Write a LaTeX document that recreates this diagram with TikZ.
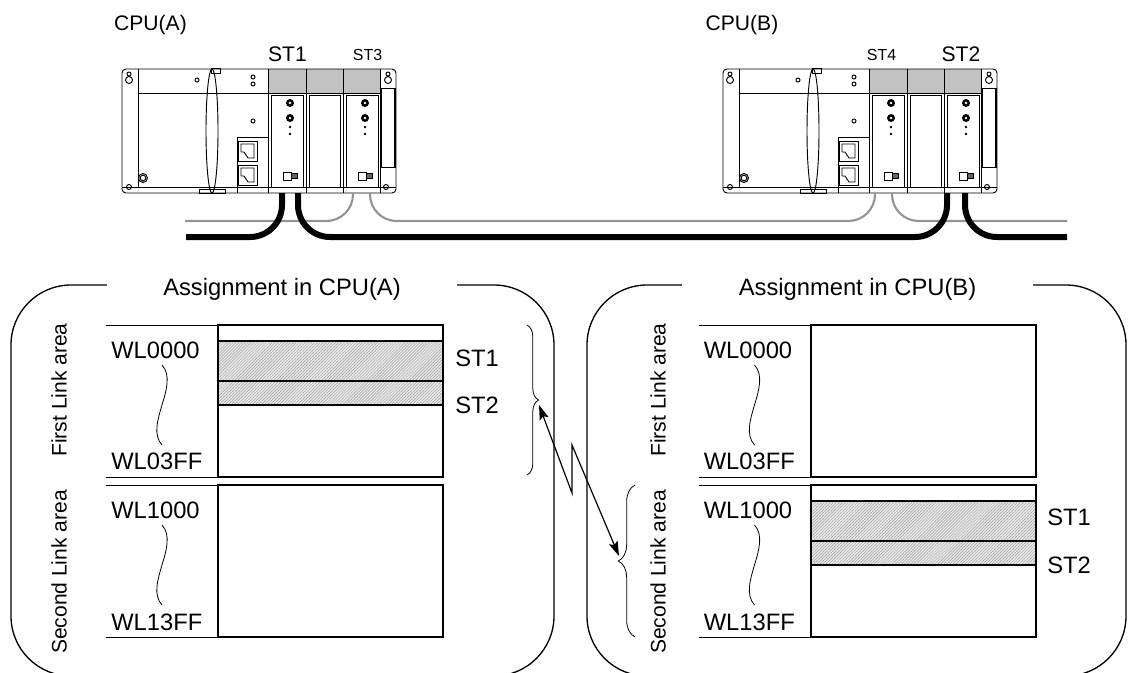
\documentclass[tikz,border=0pt]{standalone}
\usepackage{fontspec}
\setmainfont{Liberation Sans}
\usetikzlibrary{arrows.meta,decorations.pathreplacing,patterns.meta}
\definecolor{cablegray}{gray}{0.58}
\definecolor{slotgray}{gray}{0.76}
\tikzset{
  biglbl/.style={font=\fontsize{17.8}{21}\selectfont,inner sep=0pt},
  midlbl/.style={font=\fontsize{15.8}{19}\selectfont,inner sep=0pt},
  smalllbl/.style={font=\fontsize{12}{14}\selectfont,inner sep=0pt},
  title/.style={biglbl,fill=white,inner xsep=42.5pt,inner ysep=3pt},
  areabox/.style={line width=1pt,rounded corners=45pt},
  memblock/.style={line width=1.5pt},
  addrline/.style={line width=0.7pt},
  hatch/.style={preaction={fill=gray!18},pattern={Lines[angle=45,distance=1.6pt,line width=0.35pt]},pattern color=gray!75},
  brc/.style={decorate,decoration={brace,amplitude=#1},line width=0.6pt},
  blackcable/.style={line width=4.5pt,rounded corners=24pt},
  graycable/.style={line width=1.6pt,cablegray,rounded corners=20pt},
  plcline/.style={line width=0.7pt}
}
\begin{document}
\begin{tikzpicture}[x=0.75pt,y=-0.75pt]
  \clip (0,0) rectangle (1130,672);
  \foreach \dx in {0,601}{
    \begin{scope}[shift={(\dx,0)},plcline]
      \fill[slotgray] (268,69) rectangle (380,93);
      \draw[rounded corners=3pt] (122,69) rectangle (396,193);
      \draw (138,69) -- (138,187) (122,187) -- (396,187) (138,93) -- (380,93);
      \foreach \x in {268,306,343,380} \draw (\x,69) -- (\x,193);
      \draw (237,187) -- (237,193);
      \draw (381,88) rectangle (395,167);
      \draw[line width=1.5pt] (395,88) -- (395,167);
      \draw (271,95) rectangle (303,187) (309,95) rectangle (340,187) (346,95) rectangle (378,187);
      \foreach \m in {290,365}{
        \fill (\m,103) circle (4) (\m,118) circle (4);
        \fill[white] (\m,103) circle (1.3) (\m,118) circle (1.3);
        \fill (\m,127) circle (1.4) (\m,134) circle (1.4);
        \draw (\m-7,172) rectangle (\m+1,180);
        \draw[fill=black!60] (\m+1,173.5) rectangle (\m+7,178.5);
      }
      \draw (212,131) ellipse [x radius=6,y radius=62];
      \draw (211,68) rectangle (220,73) (199,189) rectangle (225,193);
      \draw (197,80) circle (2) (253,77) circle (2) (253,84) circle (2) (253,121) circle (2);
      \draw (129,187) circle (2.5) (386,187) circle (2.5);
      \draw (143,178) circle (4.5) (143,178) circle (2.8);
      \draw (129,80) circle (3.5) (129,74) circle (2) (388,80) circle (3.5) (388,74) circle (2);
      \draw (237,137) rectangle (268,187);
      \draw (238.5,141) rectangle (257,161) (238.5,165) rectangle (257,185);
      \draw (241,144) -- (254,144) -- (254,158) -- (248,158) -- (244,152) -- (241,152) -- cycle;
      \draw (241,168) -- (254,168) -- (254,182) -- (248,182) -- (244,176) -- (241,176) -- cycle;
    \end{scope}
  }
  \coordinate (st1a) at (282,193);
  \coordinate (st1b) at (298,193);
  \coordinate (st3a) at (353,193);
  \coordinate (st3b) at (370,193);
  \coordinate (st4a) at (875,193);
  \coordinate (st4b) at (892,193);
  \coordinate (st2a) at (947,193);
  \coordinate (st2b) at (965,193);
  \coordinate (grayW) at (185,221);
  \coordinate (grayE) at (1067,221);
  \coordinate (blackW) at (186,237);
  \coordinate (blackE) at (1067,237);
  \draw[graycable] (grayW) -| (st3a);
  \draw[graycable] (st3b) |- (st4a |- grayW) -- (st4a);
  \draw[graycable] (st4b) |- (grayE);
  \draw[blackcable] (blackW) -| (st1a);
  \draw[blackcable] (st1b) |- (st2a |- blackW) -- (st2a);
  \draw[blackcable] (st2b) |- (blackE);
  \node[midlbl,anchor=base] (cpua) at (150.5,30.7) {CPU(A)};
  \node[midlbl,anchor=base] (cpub) at (742,30.7) {CPU(B)};
  \node[midlbl,anchor=base] (st1top) at (287.5,61.7) {ST1};
  \node[smalllbl,anchor=base] (st3top) at (367.5,60) {ST3};
  \node[smalllbl,anchor=base] (st4top) at (881.5,60) {ST4};
  \node[midlbl,anchor=base] (st2top) at (961,61.7) {ST2};
  \draw[areabox] (11,285) rectangle (554,676);
  \draw[areabox] (587,285) rectangle (1126,676);
  \node[title,anchor=base] (titlea) at (282,295.3) {Assignment in CPU(A)};
  \node[title,anchor=base] (titleb) at (857.5,295.3) {Assignment in CPU(B)};
  \foreach \ox/\s in {0/a,592.5/b}{
    \begin{scope}[shift={(\ox,0)}]
      \draw[addrline] (106,325) -- (218,325) (106,477) -- (218,477) (106,485) -- (218,485) (106,637) -- (218,637);
      \draw[memblock] (218,325) rectangle (443,477);
      \draw[memblock] (218,485) rectangle (443,637);
      \node[biglbl,anchor=base west] (wla\s) at (111,358) {WL0000};
      \node[biglbl,anchor=base west] (wlb\s) at (111,469.7) {WL03FF};
      \node[biglbl,anchor=base west] (wlc\s) at (111,518) {WL1000};
      \node[biglbl,anchor=base west] (wld\s) at (111,630) {WL13FF};
      \draw[line width=0.6pt] (162,365) .. controls (180,385) and (144,425) .. (162,445);
      \draw[line width=0.6pt] (162,525) .. controls (180,545) and (144,585) .. (162,605);
    \end{scope}
  }
  \node[midlbl,rotate=90] (firsta) at (59,390) {First Link area};
  \node[midlbl,rotate=90] (seconda) at (59,572) {Second Link area};
  \node[midlbl,rotate=90] (firstb) at (658,390) {First Link area};
  \node[midlbl,rotate=90] (secondb) at (658,572) {Second Link area};
  \draw[memblock,hatch] (218,341) rectangle (443,381);
  \draw[memblock,hatch] (218,381) rectangle (443,405);
  \draw[memblock,hatch] (810.5,501) rectangle (1035.5,541);
  \draw[memblock,hatch] (810.5,541) rectangle (1035.5,565);
  \node[biglbl,anchor=base west] (lblst1a) at (455,366) {ST1};
  \node[biglbl,anchor=base west] (lblst2a) at (455,413.7) {ST2};
  \node[biglbl,anchor=base west] (lblst1b) at (1047,525) {ST1};
  \node[biglbl,anchor=base west] (lblst2b) at (1047,573) {ST2};
  \draw[brc=8.7pt] (527,325) -- (527,475);
  \draw[brc=12.5pt] (635,637) -- (635,485);
  \coordinate (tipa) at (539,405);
  \coordinate (zig1) at (572,493);
  \coordinate (zig2) at (572,445);
  \coordinate (tipb) at (619,556);
  \draw[line width=0.9pt,{Stealth[length=11pt,width=7pt,inset=2pt]}-{Stealth[length=11pt,width=7pt,inset=2pt]}] (tipa) -- (zig1) -- (zig2) -- (tipb);
\end{tikzpicture}
\end{document}
